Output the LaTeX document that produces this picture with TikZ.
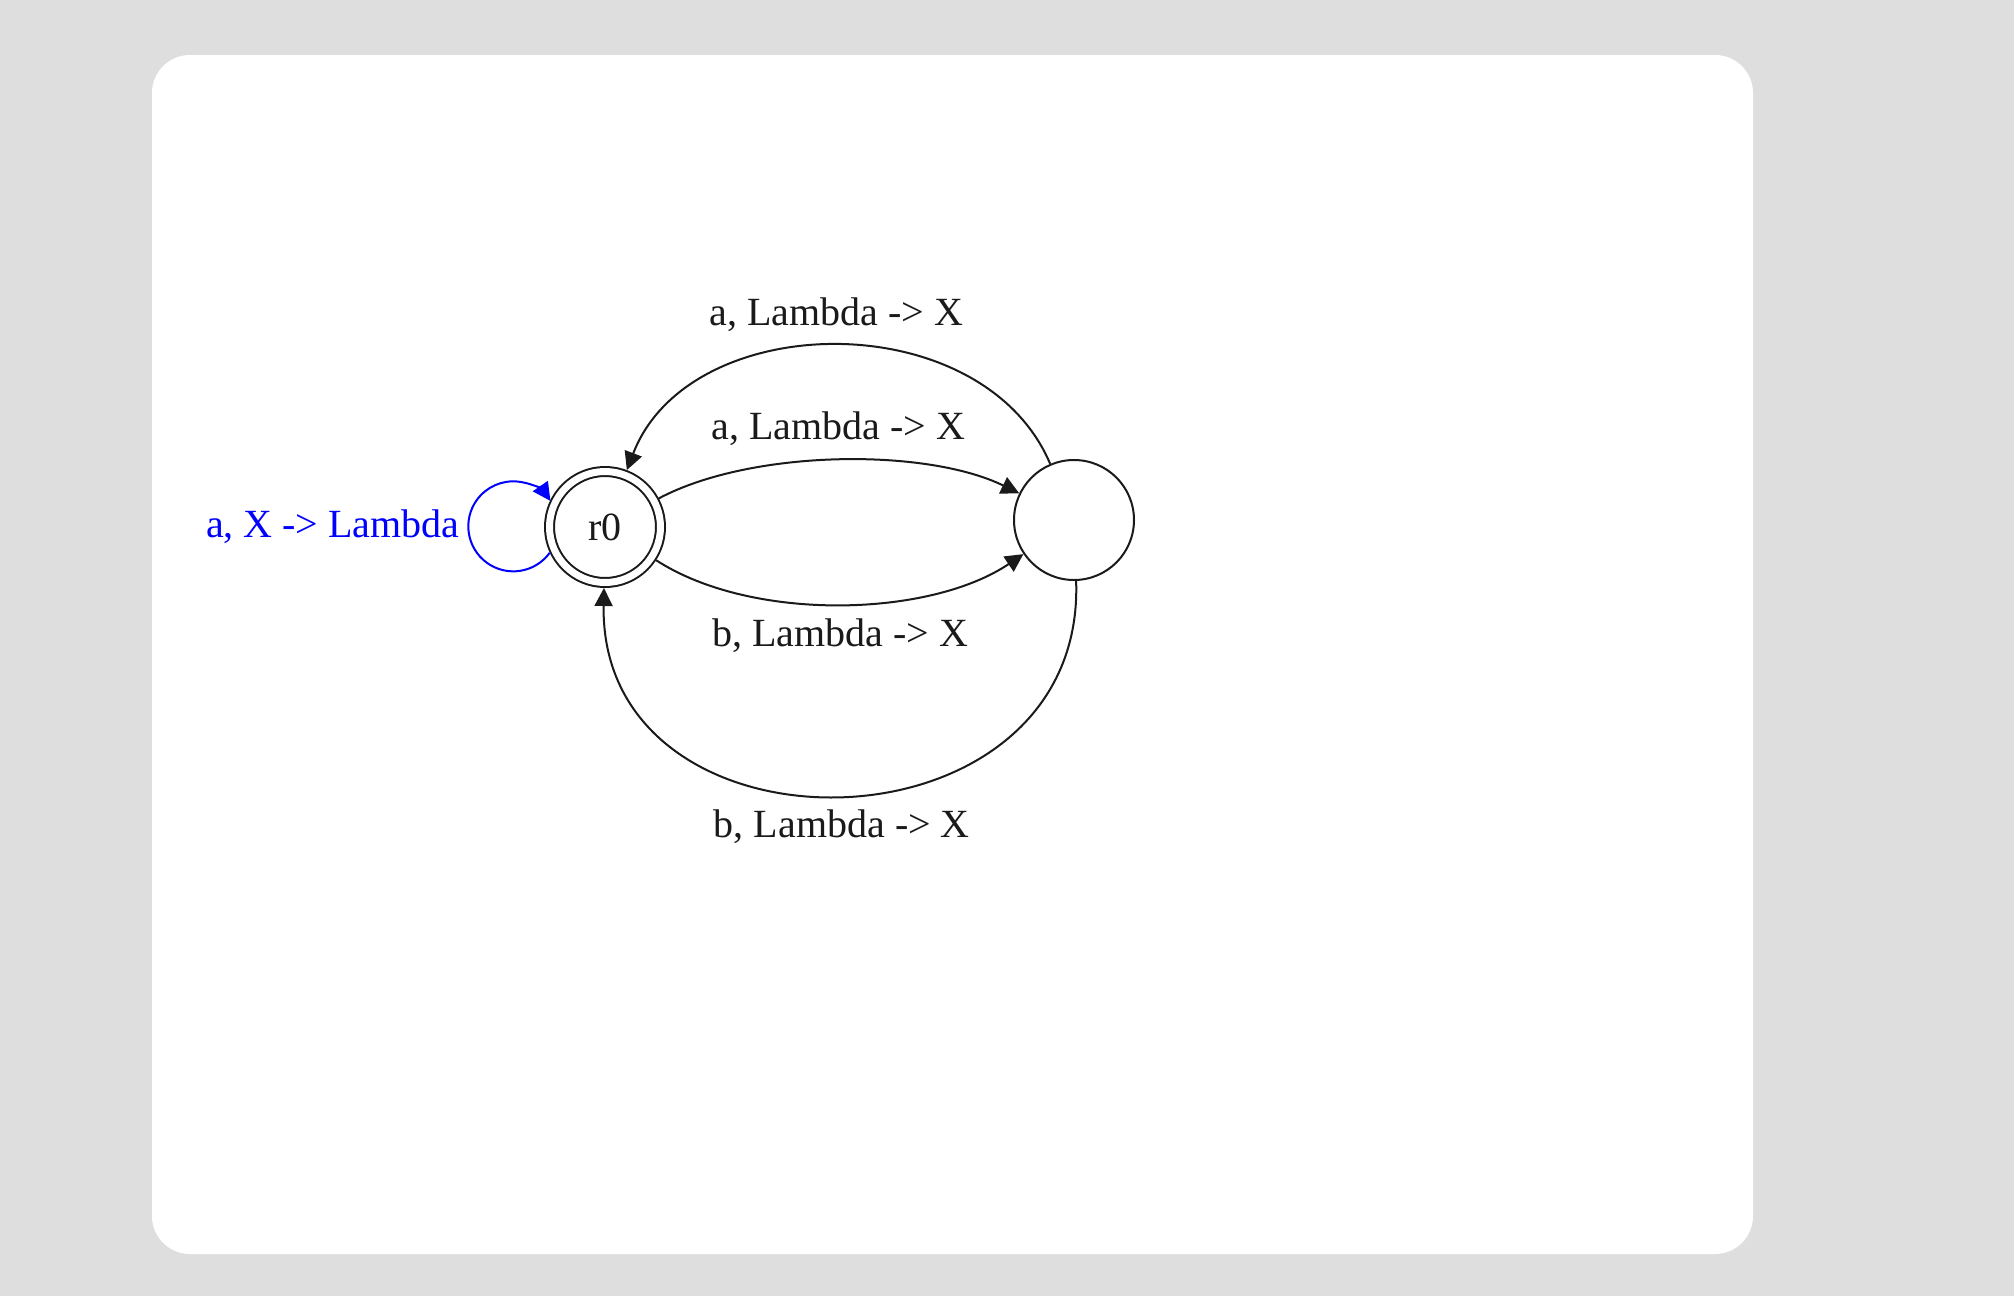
\documentclass[tikz,border=0pt]{standalone}
\usepackage{fontspec}
\setmainfont{Liberation Serif}
\usetikzlibrary{arrows.meta}
\definecolor{bggray}{HTML}{DEDEDE}
\definecolor{loopblue}{HTML}{0000FF}
\definecolor{inkc}{HTML}{1A1A1A}
\begin{document}
\begin{tikzpicture}[x=0.5pt,y=0.5pt,
  every node/.style={font=\fontsize{20}{24}\selectfont, text=inkc},
  statenode/.style={circle, draw=inkc, line width=1pt, minimum size=60pt, inner sep=0pt, outer sep=0.5pt},
  accepting/.style={minimum size=55.5pt, double, double distance=3.5pt, outer sep=2.75pt},
  trans/.style={draw=inkc, line width=1pt, -{Triangle[length=9pt,width=9pt]}},
  looptrans/.style={trans, draw=loopblue},
  edgelabel/.style={inner sep=0pt}]
  % background and panel
  \fill[bggray] (0,0) rectangle (2014,-1296);
  \fill[white, rounded corners=19pt] (152,-55) rectangle (1753,-1254);
  \useasboundingbox (0,0) rectangle (2014,-1296);
  % states
  \node[statenode, accepting] (r0) at (605,-527) {r0};
  \node[statenode] (q1) at (1074,-520) {};
  % transitions
  \draw[trans] (r0) to[out=28,in=154,looseness=0.74]
     node[edgelabel, yshift=16pt] {a, Lambda -> X} (q1);
  \draw[trans] (r0) to[out=-33,in=-146,looseness=0.79]
     node[edgelabel, yshift=-16pt] {b, Lambda -> X} (q1);
  \draw[trans] (q1) to[out=113,in=69,looseness=1.05]
     node[edgelabel, yshift=15.5pt] {a, Lambda -> X} (r0);
  \draw[trans] (q1) to[out=-88,in=-91,looseness=1.52]
     node[edgelabel, yshift=-16pt] {b, Lambda -> X} (r0);
  % self loop
  \draw[looptrans] (r0.205) arc[start angle=-36, end angle=-325.6, radius=22.5pt];
  \node[edgelabel, anchor=east, text=loopblue] (looplabel) at (460,-527) {a, X -> Lambda};
\end{tikzpicture}
\end{document}
